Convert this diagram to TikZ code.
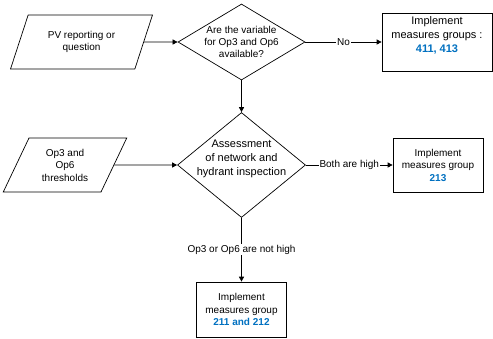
\documentclass[tikz,border=0pt]{standalone}
\usepackage{fontspec}
\setmainfont{Liberation Sans}
\usetikzlibrary{shapes.geometric,arrows.meta}
\definecolor{numblue}{RGB}{0,112,192}
\begin{document}
\begin{tikzpicture}[x=1pt,y=-1pt,
  every node/.style={font=\fontsize{10}{12.5}\selectfont},
  flow/.style={draw, line width=0.7pt, -{Triangle[length=5pt,width=5pt]}},
  databox/.style={trapezium, trapezium left angle=63, trapezium right angle=117,
    trapezium stretches=true, draw, line width=0.7pt, align=center, inner sep=0pt},
  decision/.style={diamond, draw, line width=0.7pt, inner sep=0pt},
  action/.style={rectangle, draw, line width=0.7pt, align=center, inner sep=0pt},
  elabel/.style={fill=white, inner sep=1pt},
  bignum/.style={font=\fontsize{11}{14}\selectfont\bfseries, text=numblue},
  num/.style={font=\fontsize{10}{12.5}\selectfont\bfseries, text=numblue}]
\useasboundingbox (0,0) rectangle (493,338);

% inputs
\node[databox, minimum width=143pt, minimum height=54pt] (pv) at (81.5,42)
  {PV reporting or\\question};
\node[databox, minimum width=124pt, minimum height=54pt] (th) at (65,165)
  {Op3 and\\Op6\\thresholds};

% decisions
\node[decision, minimum width=127pt, minimum height=76pt,
  label={[align=center, font=\fontsize{10}{12}\selectfont]center:Are the variable\\for Op3 and Op6\\available?}]
  (d1) at (241.5,42) {};
\node[decision, minimum width=128pt, minimum height=105pt,
  label={[align=center, yshift=6pt, font=\fontsize{11}{14}\selectfont]center:Assessment\\of network and\\hydrant inspection}]
  (d2) at (241.5,165) {};

% actions
\node[action, minimum width=110pt, minimum height=58pt,
  label={[align=center, yshift=7pt, font=\fontsize{11}{14}\selectfont]center:Implement\\measures groups :\\{\color{numblue}\bfseries 411, 413}}]
  (b1) at (437,42) {};
\node[action, minimum width=90pt, minimum height=54pt] (b2) at (438,165)
  {Implement\\measures group\\{\color{numblue}\bfseries 213}};
\node[action, minimum width=90pt, minimum height=55pt] (b3) at (241.5,309.5)
  {Implement\\measures group\\{\color{numblue}\bfseries 211 and 212}};

% connectors
\draw[flow] (pv) -- (d1);
\draw[flow] (d1) -- node[elabel]{No} (b1);
\draw[flow] (d1.south) -- (d2.north);
\draw[flow] (th) -- (d2);
\draw[flow] (d2) -- node[elabel]{Both are high} (b2);
\draw[flow] (d2.south) -- node[elabel]{Op3 or Op6 are not high} (b3.north);
\end{tikzpicture}
\end{document}
